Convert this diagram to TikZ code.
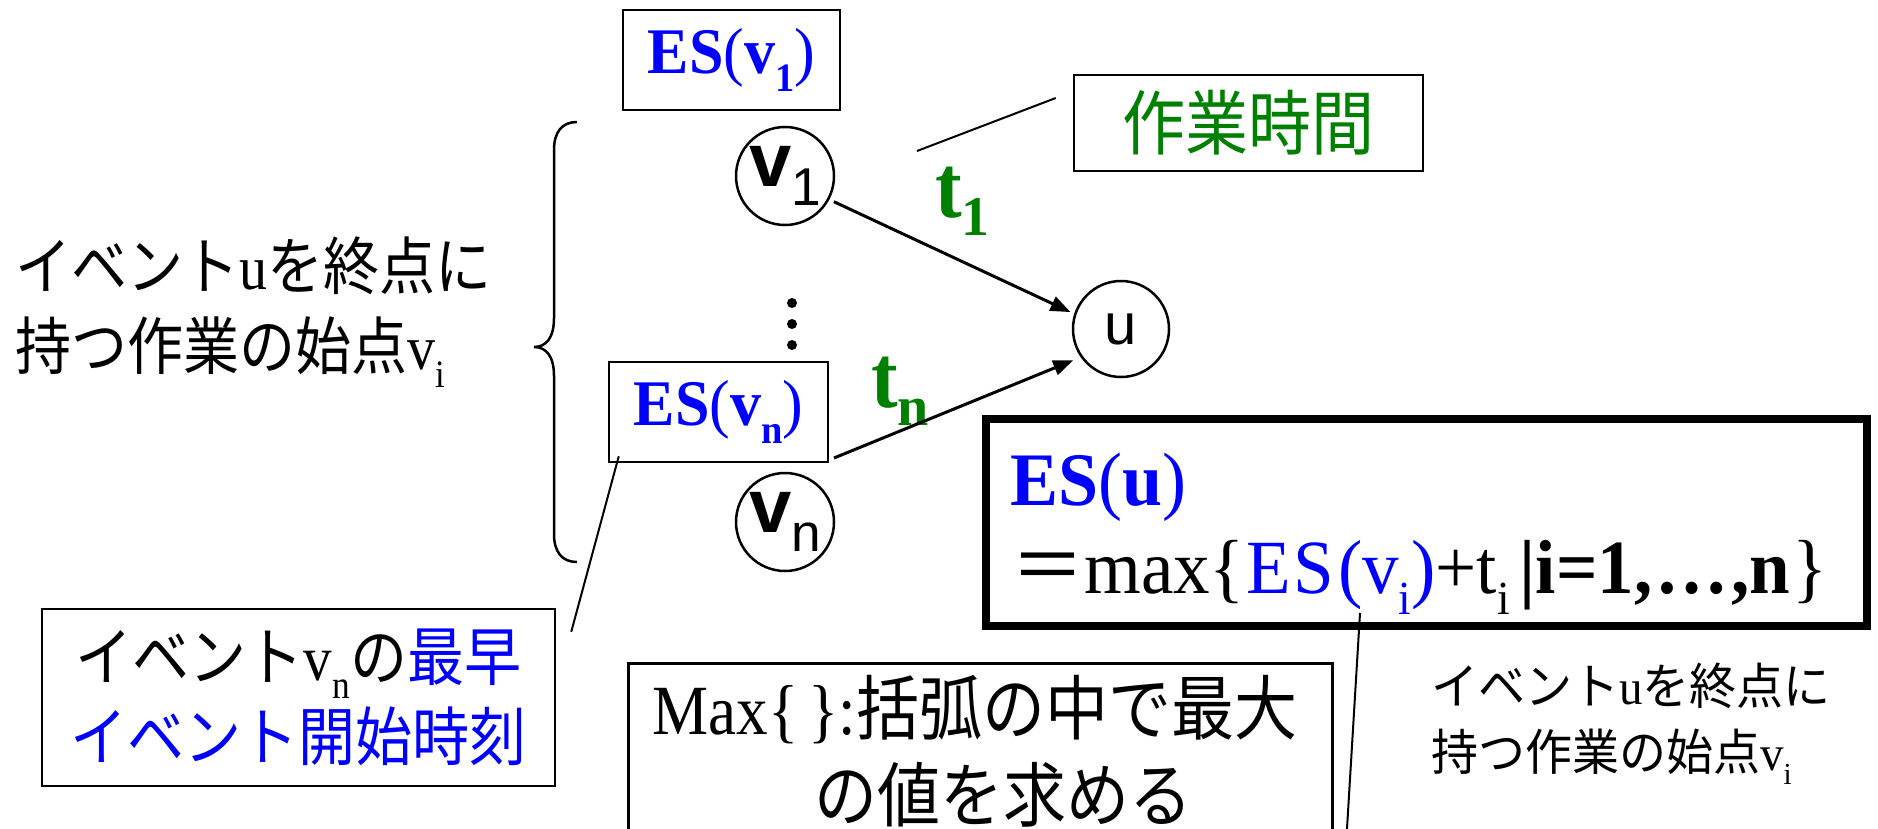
\documentclass[tikz,border=0pt]{standalone}
\usepackage{fontspec}
\usepackage{graphicx}
\setmainfont{Liberation Serif}
\setsansfont{Liberation Sans}
\newfontfamily\jpf{Noto Sans CJK JP}
\usetikzlibrary{arrows.meta,calc}
\definecolor{ggreen}{RGB}{0,128,0}
\definecolor{bblue}{RGB}{0,0,255}
\newcommand{\fs}[1]{\fontsize{#1}{#1}\selectfont}
\newcommand{\mysub}[1]{\raisebox{-0.28em}{\scalebox{0.62}{#1}}}
\newcommand{\csub}[1]{\raisebox{-0.26em}{\scalebox{0.7}{\mdseries #1}}}
\newcommand{\st}[1]{\scalebox{1}[1.12]{#1}}
\newcommand{\sts}[1]{\scalebox{1}[1.05]{#1}}
\begin{document}
\begin{tikzpicture}[x=1pt,y=-1pt,
  box/.style={draw, line width=2.5pt, inner sep=0pt},
  evt/.style={circle, draw, line width=2.5pt, minimum size=98pt, inner sep=0pt},
  arr/.style={-{Triangle[length=20pt,width=15pt]}, line width=3pt},
  thinline/.style={line width=2pt},
  dotnode/.style={circle, fill, inner sep=0pt, minimum size=10pt}]
\useasboundingbox (0,0) rectangle (1878,829);

% left explanatory text and brace
\node[anchor=west, align=left, inner sep=0pt, font=\fontsize{56}{80}\selectfont] (lt) at (15,312)
  {\st{{\jpf イベント}u{\jpf を終点に}}\\\st{{\jpf 持つ作業の始点}v\mysub{i}}};
\draw[line width=2.5pt] (577,122) .. controls (562,122) and (554,132) .. (554,150) -- (554,318)
  .. controls (554,338) and (546,347) .. (534,347) .. controls (546,347) and (554,356) .. (554,376)
  -- (554,534) .. controls (554,552) and (562,562) .. (577,562);

% ES(v1) and v1
\node[box, minimum width=217pt, minimum height=100pt] (esv1) at (731.5,60)
  {\fs{62}\color{bblue}\sts{\textbf{ES}(\textbf{v\mysub{1}})}};
\node[evt] (v1) at (785,176) {\fs{76}\sffamily\bfseries v\csub{1}};

% work time box
\node[box, minimum width=349pt, minimum height=96pt] (work) at (1248.5,123)
  {\fs{63}\jpf\color{ggreen}\st{作業時間}};
\coordinate (tpt) at (917,151);
\draw[thinline] (tpt) -- ($(work.west)+(-17,-25)$);

% u
\node[evt, minimum size=96pt] (u) at (1121,329) {\fs{58}\sffamily u};

% t labels
\node[anchor=base west, inner sep=0pt] (t1) at (935,217)
  {\color{ggreen}\fs{80}\scalebox{1}[1.12]{\textbf{t}}\raisebox{-0.23em}{\scalebox{0.7}{\textbf{1}}}};
\node[anchor=base west, inner sep=0pt] (tn) at (871,407)
  {\color{ggreen}\fs{80}\scalebox{1}[1.12]{\textbf{t}}\raisebox{-0.23em}{\scalebox{0.7}{\textbf{n}}}};

% dots
\node[dotnode] (d1) at (792,303) {};
\node[dotnode] (d2) at (792,324) {};
\node[dotnode] (d3) at (792,345) {};

% ES(vn) and vn
\node[box, minimum width=219pt, minimum height=100pt] (esvn) at (718.5,412)
  {\fs{62}\color{bblue}\sts{\textbf{ES}(\textbf{v\mysub{n}})}};
\node[evt] (vn) at (785,522) {\fs{76}\sffamily\bfseries v\csub{n}};

% arrows
\draw[arr, shorten <=5pt, shorten >=4pt] (v1.-28) -- (u.162);
\coordinate (vnout) at (834,458);
\draw[arr, shorten >=8pt] (vnout) -- (u.215);

% bottom-left box
\node[box, minimum width=513pt, minimum height=177pt, align=center,
      font=\fontsize{57}{80}\selectfont] (esl) at (298.5,697.5)
  {\st{{\jpf イベント}v\mysub{n}{\jpf の\color{bblue}最早}}\\\st{{\jpf\color{bblue}イベント開始時刻}}};
\draw[thinline] ($(esvn.south west)+(11,-7)$) -- ($(esl.north east)+(15,24)$);

% ES(u) box
\node[draw, line width=8pt, minimum width=881pt, minimum height=207pt, inner sep=0pt] (esu) at (1426.5,522.5) {};
\node[anchor=base west, inner sep=0pt] (esuA) at (1010,505)
  {\fs{72}\color{bblue}\sts{\textbf{ES}(\textbf{u})}};
\node[anchor=base west, inner sep=0pt] (esuB) at (1011,593)
  {\fs{73}\sts{{\jpf ＝}max\{\kern2pt{\color{bblue}E\kern2pt S\kern4pt(v\mysub{i})}+t\mysub{i}\kern10pt\textbf{|i=1,\kern3pt…\kern3pt,n}\kern2pt\}}};
\coordinate (vipt) at (1360,613);
\coordinate (vibot) at (1346,845);
\draw[thinline] (vipt) -- (vibot);

% Max box
\node[box, minimum width=704pt, minimum height=200pt, anchor=north west] (maxb) at (627,662) {};
\node (maxA) at (975,710) {\fs{63}\st{Max\{\,\}:{\jpf 括弧の中で最大}}};
\node (maxB) at (1003,795) {\fs{63}\jpf\st{の値を求める}};

% right text
\node[anchor=west, align=left, inner sep=0pt, font=\fontsize{47}{66}\selectfont] (rt) at (1431,724)
  {\sts{{\jpf イベント}u{\jpf を終点に}}\\\sts{{\jpf 持つ作業の始点}v\mysub{i}}};
\end{tikzpicture}
\end{document}
